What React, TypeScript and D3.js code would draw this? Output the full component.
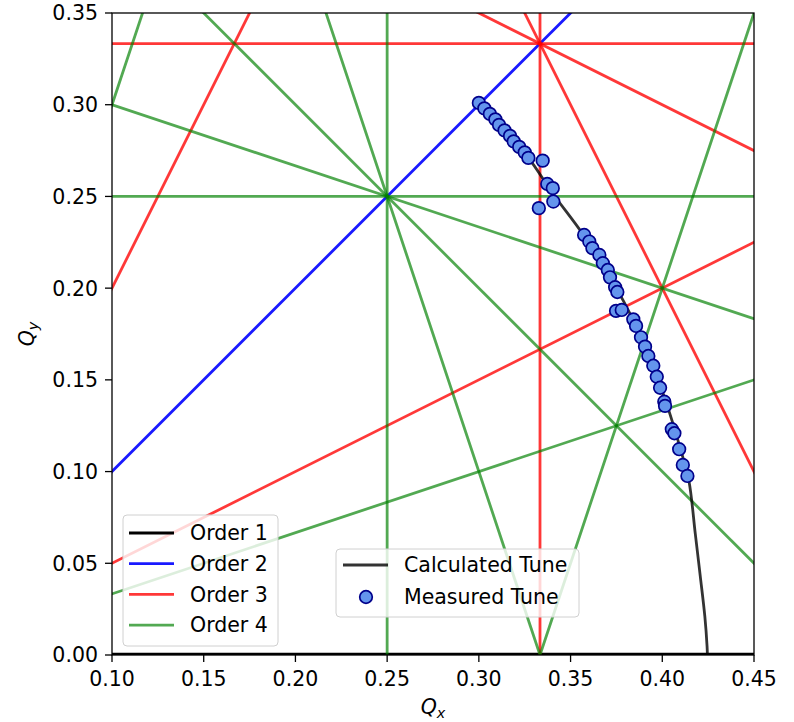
import React from "react";
import * as d3 from "d3";

// Resonance lines: m*Qx + k*Qy = p, grouped by order |m|+|k|
const order1: [number, number, number][] = [[0, 1, 0], [1, 0, 0]];
const order2: [number, number, number][] = [[1, -1, 0], [2, 0, 1], [0, 2, 1], [1, 1, 1]];
const order3: [number, number, number][] = [[3, 0, 1], [0, 3, 1], [2, 1, 1], [1, 2, 1], [2, -1, 0], [1, -2, 0]];
const order4: [number, number, number][] = [[4, 0, 1], [0, 4, 1], [3, 1, 1], [1, 3, 1], [2, 2, 1], [3, -1, 1], [1, -3, 0], [3, -1, 0]];

const calcQx = [0.300, 0.313, 0.327, 0.340, 0.357, 0.375, 0.390, 0.402, 0.410, 0.4145, 0.418, 0.4207, 0.4232, 0.4244, 0.4246];
const calcQy = [0.301, 0.286, 0.271, 0.252, 0.229, 0.200, 0.170, 0.138, 0.112, 0.095, 0.066, 0.043, 0.021, 0.005, 0.000];

const measQx = [0.300, 0.303, 0.306, 0.309, 0.311, 0.314, 0.317, 0.319, 0.322, 0.325, 0.327,
  0.3348, 0.3373, 0.3403, 0.3406, 0.3327,
  0.3574, 0.3602, 0.3619, 0.3657, 0.3676, 0.3703, 0.3715, 0.3743, 0.3755, 0.3748, 0.3779,
  0.3842, 0.3857, 0.3884, 0.3906, 0.3924, 0.3951, 0.3970, 0.3988, 0.4011, 0.4015,
  0.4052, 0.4066, 0.4092, 0.4112, 0.4137];
const measQy = [0.301, 0.298, 0.295, 0.292, 0.289, 0.286, 0.283, 0.280, 0.277, 0.274, 0.271,
  0.2695, 0.2568, 0.2545, 0.2472, 0.2436,
  0.2290, 0.2254, 0.2218, 0.2181, 0.2136, 0.2099, 0.2059, 0.2005, 0.1979, 0.1876, 0.1881,
  0.1830, 0.1794, 0.1732, 0.1681, 0.1630, 0.1577, 0.1517, 0.1457, 0.1381, 0.1358,
  0.1231, 0.1209, 0.1122, 0.1036, 0.0976];

const xTicks = [0.10, 0.15, 0.20, 0.25, 0.30, 0.35, 0.40, 0.45];
const yTicks = [0.00, 0.05, 0.10, 0.15, 0.20, 0.25, 0.30, 0.35];

const orderLabels = ["Order 1", "Order 2", "Order 3", "Order 4"];
const orderColors = ["rgba(0,0,0,1)", "rgba(0,0,255,0.9)", "rgba(255,0,0,0.78)", "rgba(0,128,0,0.68)"];

const W = 794, H = 722;
const L = 112, R = 754, T = 13, B = 655;
const FONT = "DejaVu Sans, sans-serif";
const FS = 20.5;

export default function App() {
  const x = d3.scaleLinear().domain([0.1, 0.45]).range([L, R]);
  const y = d3.scaleLinear().domain([0, 0.35]).range([B, T]);

  const lineSeg = (m: number, k: number, p: number) => {
    if (k === 0) {
      const qx = p / m;
      return { x1: x(qx), y1: y(-1), x2: x(qx), y2: y(2) };
    }
    const qa = -1, qb = 2;
    return { x1: x(qa), y1: y((p - m * qa) / k), x2: x(qb), y2: y((p - m * qb) / k) };
  };

  const orders = [order1, order2, order3, order4];
  const calcLine = d3.line<number>()
    .x((_, i) => x(calcQx[i]))
    .y((_, i) => y(calcQy[i]))
    .curve(d3.curveCatmullRom.alpha(0.5));

  return (
    <svg width={W} height={H} style={{ display: "block", position: "absolute", left: 0, top: 0 }} fontFamily={FONT}>
      <defs>
        <clipPath id="plotclip">
          <rect x={L} y={T} width={R - L} height={B - T} />
        </clipPath>
      </defs>
      <rect x={0} y={0} width={W} height={H} fill="white" />
      <g clipPath="url(#plotclip)">
        {orders.map((ord, oi) =>
          ord.map(([m, k, p], j) => {
            const s = lineSeg(m, k, p);
            return <line key={`${oi}-${j}`} {...s} stroke={orderColors[oi]} strokeWidth={oi === 0 ? 4.5 : 2.8} />;
          })
        )}
        <path d={calcLine(calcQx) || ""} fill="none" stroke="rgba(0,0,0,0.8)" strokeWidth={2.8} />
        {measQx.map((qx, i) => (
          <circle key={i} cx={x(qx)} cy={y(measQy[i])} r={6.3} fill="#6495ED" stroke="#00008B" strokeWidth={1.7} />
        ))}
      </g>
      {/* spines */}
      <rect x={L} y={T} width={R - L} height={B - T} fill="none" stroke="black" strokeWidth={1.3} />
      {/* x ticks */}
      {xTicks.map((t) => (
        <g key={t}>
          <line x1={x(t)} x2={x(t)} y1={B} y2={B + 7} stroke="black" strokeWidth={1.3} />
          <text x={x(t)} y={686} textAnchor="middle" fontSize={FS}>{t.toFixed(2)}</text>
        </g>
      ))}
      {yTicks.map((t) => (
        <g key={t}>
          <line x1={L - 7} x2={L} y1={y(t)} y2={y(t)} stroke="black" strokeWidth={1.3} />
          <text x={98} y={y(t)} dy="0.36em" textAnchor="end" fontSize={FS}>{t.toFixed(2)}</text>
        </g>
      ))}
      <text x={433} y={714} textAnchor="middle" fontSize={FS} fontStyle="italic">
        Q<tspan fontSize={FS * 0.7} dy={4}>x</tspan>
      </text>
      <text transform={`translate(34,${(T + B) / 2}) rotate(-90)`} textAnchor="middle" fontSize={FS} fontStyle="italic">
        Q<tspan fontSize={FS * 0.7} dy={4}>y</tspan>
      </text>
      {/* legend 1 */}
      <g>
        <rect x={123} y={515} width={155} height={131} rx={4} fill="rgba(255,255,255,0.8)" stroke="#d0d0d0" strokeWidth={1} />
        {orderLabels.map((lab, i) => (
          <g key={lab}>
            <line x1={129} x2={174} y1={533 + i * 30.7} y2={533 + i * 30.7} stroke={orderColors[i]} strokeWidth={2.8} />
            <text x={190} y={533 + i * 30.7} dy="0.36em" fontSize={FS}>{lab}</text>
          </g>
        ))}
      </g>
      {/* legend 2 */}
      <g>
        <rect x={336} y={549} width={243} height={68} rx={4} fill="rgba(255,255,255,0.8)" stroke="#d0d0d0" strokeWidth={1} />
        <line x1={343} x2={388} y1={565} y2={565} stroke="rgba(0,0,0,0.8)" strokeWidth={2.8} />
        <text x={404} y={565} dy="0.36em" fontSize={FS}>Calculated Tune</text>
        <circle cx={366} cy={597} r={6.3} fill="#6495ED" stroke="#00008B" strokeWidth={1.7} />
        <text x={404} y={597} dy="0.36em" fontSize={FS}>Measured Tune</text>
      </g>
    </svg>
  );
}
